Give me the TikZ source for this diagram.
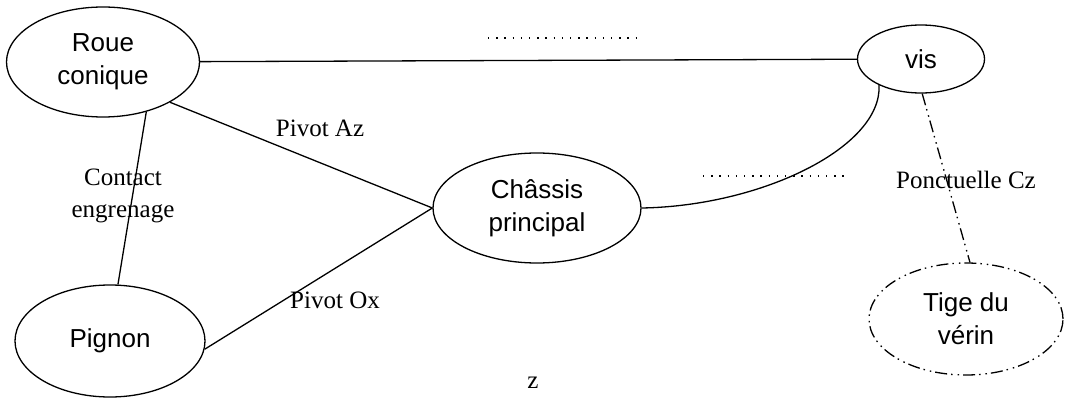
\documentclass[tikz,border=0pt]{standalone}
\usepackage{fontspec}
\setmainfont{Liberation Serif}
\newfontfamily\arialfont{Liberation Sans}
\usetikzlibrary{shapes.geometric}
\begin{document}
\begin{tikzpicture}[x=1pt,y=-1pt,
  part/.style={ellipse,draw,line width=1.3pt,inner sep=0pt,align=center,
    font=\arialfont\fontsize{26}{33}\selectfont},
  link/.style={line width=1.3pt},
  lbl/.style={font=\fontsize{25}{32}\selectfont,inner sep=0pt,align=center},
  dotline/.style={line width=1.4pt,dash pattern=on 1.4pt off 6.8pt},
  dashdot/.style={line width=1.3pt,dash pattern=on 12pt off 4pt on 1.5pt off 5pt on 1.5pt off 4pt}]
\useasboundingbox (0,0) rectangle (1065,403);
\node[part,minimum width=193pt,minimum height=110pt] (roue) at (103,62) {Roue\\conique};
\node[part,minimum width=190pt,minimum height=112pt] (pignon) at (110,341) {Pignon};
\node[part,minimum width=208pt,minimum height=110pt] (chassis) at (537,208) {Châssis\\principal};
\node[part,minimum width=127pt,minimum height=68pt] (vis) at (921,59) {vis};
\node[part,dashdot,minimum width=194pt,minimum height=112pt] (tige) at (966,319) {Tige du\\vérin};

\draw[link] (roue) -- (vis);
\draw[link] (roue.-31) -- (chassis.west);
\draw[link] (roue.-49) -- (pignon.82);
\draw[link] (pignon.-5) -- (chassis.west);
\draw[link] (chassis.east) .. controls +(120,-2) and +(3,62) .. (vis.212);
\draw[dashdot] (vis.-88) -- (tige.86);

\coordinate (d1a) at (488,38);
\coordinate (d1b) at (636,38);
\coordinate (d2a) at (703,176);
\coordinate (d2b) at (846,176);
\draw[dotline] (d1a) -- (d1b);
\draw[dotline] (d2a) -- (d2b);

\node[lbl] (laz) at (320,128) {Pivot Az};
\node[lbl] (lce) at (123,196) {Contact\\engrenage};
\node[lbl] (lox) at (335,300) {Pivot Ox};
\node[lbl] (lcz) at (966,180) {Ponctuelle Cz};
\node[lbl] (lz) at (533,383) {z};
\end{tikzpicture}
\end{document}
